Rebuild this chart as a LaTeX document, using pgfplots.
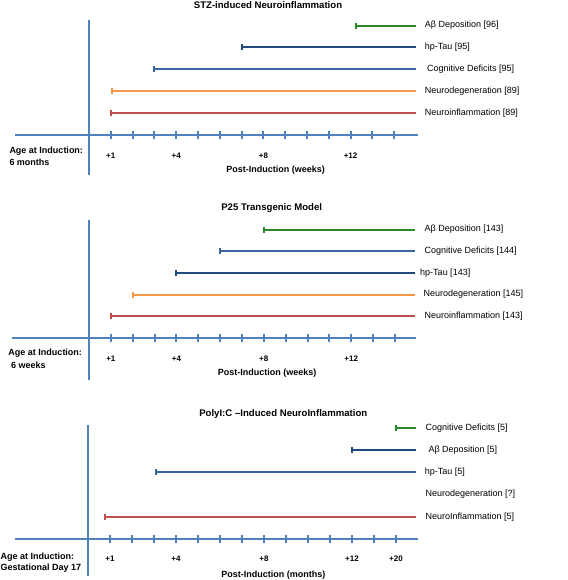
\documentclass[border=0pt]{standalone}
\usepackage{pgfplots}
\pgfplotsset{compat=1.18}
\usepackage{fontspec}
\setmainfont{Liberation Sans}
\definecolor{axblue}{HTML}{4F81BD}
\definecolor{cgreen}{HTML}{2A8A2A}
\definecolor{cnavy}{HTML}{1F497D}
\definecolor{cmid}{HTML}{3A64A0}
\definecolor{corange}{HTML}{F79646}
\definecolor{cred}{HTML}{C0504D}
\newcommand{\lblfont}{\fontsize{9}{10}\selectfont}
\newcommand{\bfnt}{\fontsize{9}{10}\selectfont\bfseries}
\newcommand{\ttlfont}{\fontsize{9.6}{11}\selectfont\bfseries}
\pgfplotsset{
  panel/.style={
    axis lines=middle,
    axis line style={-, draw=axblue, line width=2pt},
    anchor=origin,
    scale only axis,
    clip=false,
    xtick={1,...,14},
    ytick=\empty,
    major tick length=8pt,
    tick align=center,
    tick style={draw=axblue, line width=2pt},
    /pgf/number format/assume math mode=true,
    xticklabel style={font=\fontsize{8}{9}\selectfont\bfseries, anchor=center, yshift=-17pt},
  },
  seg/.style={line width=2pt, mark=|, mark indices={1},
    mark options={solid, line width=2pt}, mark size=3pt},
}
\tikzset{blab/.style={anchor=west, inner sep=0pt, font=\lblfont}}
\begin{document}
\begin{tikzpicture}
\path[use as bounding box] (0,0) rectangle (567pt,-580pt);

% ---------- Panel 1: STZ ----------
\begin{axis}[panel,
  at={(89pt,-135pt)}, x=21.8pt, y=21.9pt,
  xmin=-3.4, xmax=15.08, ymin=-1.83, ymax=5.25,
  xticklabels={+1,,,+4,,,,+8,,,,+12,,}]
\addplot[seg, cgreen]  coordinates {(12.25,5) (15,5)};
\addplot[seg, cnavy]   coordinates {(7,4) (15,4)};
\addplot[seg, cmid]    coordinates {(3,3) (15,3)};
\addplot[seg, corange] coordinates {(1.05,2) (15,2)};
\addplot[seg, cred]    coordinates {(1,1) (15,1)};
\node[blab] at (axis cs:15.4,5) {Aβ Deposition [96]};
\node[blab] at (axis cs:15.4,4) {hp-Tau [95]};
\node[blab] at (axis cs:15.5,3) {Cognitive Deficits [95]};
\node[blab] at (axis cs:15.4,2) {Neurodegeneration [89]};
\node[blab] at (axis cs:15.4,1) {Neuroinflammation [89]};
\end{axis}

% ---------- Panel 2: P25 ----------
\begin{axis}[panel,
  at={(89pt,-338pt)}, x=21.85pt, y=21.7pt,
  xmin=-3.52, xmax=14.95, ymin=-1.92, ymax=5.45,
  xticklabels={+1,,,+4,,,,+8,,,,+12,,}]
\addplot[seg, cgreen]  coordinates {(8,5) (14.93,5)};
\addplot[seg, cmid]    coordinates {(6,4) (14.93,4)};
\addplot[seg, cnavy]   coordinates {(4,3) (14.93,3)};
\addplot[seg, corange] coordinates {(2,2) (14.93,2)};
\addplot[seg, cred]    coordinates {(1,1) (14.93,1)};
\node[blab] at (axis cs:15.35,5) {Aβ Deposition [143]};
\node[blab] at (axis cs:15.35,4) {Cognitive Deficits [144]};
\node[blab] at (axis cs:15.15,3) {hp-Tau [143]};
\node[blab] at (axis cs:15.3,2) {Neurodegeneration [145]};
\node[blab] at (axis cs:15.35,1) {Neuroinflammation [143]};
\end{axis}

% ---------- Panel 3: PolyI:C ----------
\begin{axis}[panel,
  at={(88pt,-539pt)}, x=22pt, y=22.24pt,
  xmin=-3.3, xmax=15.02, ymin=-1.68, ymax=5.14,
  xticklabel style={yshift=1.5pt},
  xticklabels={+1,,,+4,,,,+8,,,,+12,,+20}]
\addplot[seg, cgreen]  coordinates {(14,5) (14.9,5)};
\addplot[seg, cnavy]   coordinates {(12,4) (14.9,4)};
\addplot[seg, cmid]    coordinates {(3.1,3) (14.9,3)};
\addplot[seg, cred]    coordinates {(0.78,1) (14.9,1)};
\node[blab] at (axis cs:15.34,5) {Cognitive Deficits [5]};
\node[blab] at (axis cs:15.47,4) {Aβ Deposition [5]};
\node[blab] at (axis cs:15.3,3) {hp-Tau [5]};
\node[blab] at (axis cs:15.34,2) {Neurodegeneration [?]};
\node[blab] at (axis cs:15.34,1) {NeuroInflammation [5]};
\end{axis}

% ---------- Titles and descriptive labels ----------
\node[font=\ttlfont, inner sep=0pt] at (268pt,-5pt) {STZ-induced Neuroinflammation};
\node[font=\ttlfont, inner sep=0pt] at (271.7pt,-208.3pt) {P25 Transgenic Model};
\node[font=\ttlfont, inner sep=0pt] at (283.3pt,-414pt) {PolyI:C –Induced NeuroInflammation};

\node[font=\bfnt, inner sep=0pt] at (275.7pt,-170pt) {Post-Induction (weeks)};
\node[font=\bfnt, inner sep=0pt] at (267.2pt,-373.3pt) {Post-Induction (weeks)};
\node[font=\bfnt, inner sep=0pt] at (273.3pt,-575pt) {Post-Induction (months)};

\node[font=\bfnt, inner sep=0pt, anchor=west] at (9.3pt,-151pt) {Age at Induction:};
\node[font=\bfnt, inner sep=0pt, anchor=west] at (9.3pt,-162.7pt) {6 months};
\node[font=\bfnt, inner sep=0pt, anchor=west] at (8.3pt,-353.3pt) {Age at Induction:};
\node[font=\bfnt, inner sep=0pt, anchor=west] at (11pt,-365pt) {6 weeks};
\node[font=\bfnt, inner sep=0pt, anchor=west] at (0.5pt,-556.7pt) {Age at Induction:};
\node[font=\bfnt, inner sep=0pt, anchor=west] at (0.5pt,-567.7pt) {Gestational Day 17};
\end{tikzpicture}
\end{document}
